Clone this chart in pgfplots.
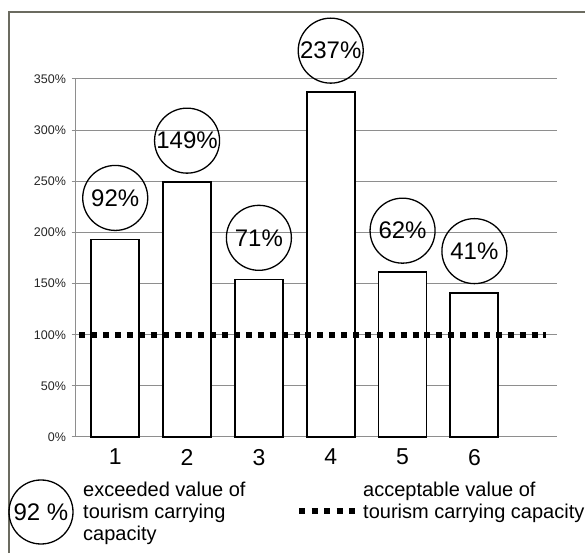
\documentclass[border=0pt]{standalone}
\usepackage{fontspec}
\setmainfont{Liberation Sans}
\usepackage{pgfplots}
\pgfplotsset{compat=1.18}
\definecolor{gridgray}{HTML}{8E8E8E}
\definecolor{framegray}{HTML}{6B6B60}

\begin{document}
\begin{tikzpicture}
\useasboundingbox (0,0) rectangle (585pt,553pt);
% outer frame (left and top edges visible)
\draw[framegray, line width=1.5pt] (9pt,0pt) -- (9pt,541pt) -- (585pt,541pt);

\begin{axis}[
    at={(75pt,116pt)}, anchor=south west,
    width=482pt, height=358pt, scale only axis,
    clip=false,
    xmin=0.44, xmax=7.15,
    ymin=0, ymax=350,
    axis x line*=bottom, axis y line*=left,
    x axis line style={draw=none},
    y axis line style={gridgray, line width=1pt},
    xtick={1,2,3,4,5,6},
    xticklabels={1,2,3,4,5,6},
    xtick style={draw=none},
    xticklabel style={font=\fontsize{23}{23}\selectfont, yshift=-5pt},
    ytick={0,50,100,150,200,250,300,350},
    yticklabels={0\%,50\%,100\%,150\%,200\%,250\%,300\%,350\%},
    ytick style={gridgray, line width=1pt},
    tick align=center, major tick length=7pt,
    yticklabel style={font=\fontsize{12.5}{12.5}\selectfont, text=black!85, xshift=-2pt},
    ymajorgrids=true,
    grid style={gridgray, line width=1pt},
    /pgf/number format/assume math mode=true,
]

\addplot[ybar, bar width=48pt, draw=black, fill=white, line width=1.8pt,
    point meta=explicit symbolic,
    nodes near coords,
    every node near coord/.append style={circle, draw=black, line width=1.3pt,
        minimum size=65pt, inner sep=0pt, anchor=south, yshift=8.5pt,
        font=\fontsize{24}{24}\selectfont, text=black}]
coordinates {
(1,193) [92\%]
(2,249) [149\%]
(3,154) [71\%]
(4,337) [237\%]
(5,161) [62\%]
(6,141) [41\%]
};

\addplot[black, line width=6pt, dash pattern=on 6pt off 5.9pt]
coordinates {(0.5,100) (7.0,100)};

\end{axis}

% legend
\node[circle, draw=black, line width=1.3pt, minimum size=64pt, inner sep=0pt,
      font=\fontsize{24}{24}\selectfont] at (41pt,41pt) {92 \%};
\node[anchor=west, align=left, inner sep=0pt,
      font=\fontsize{20}{22}\selectfont] at (83pt,40pt)
      {exceeded value of\\tourism carrying\\capacity};
\draw[black, line width=6pt, dash pattern=on 6pt off 6.5pt] (299pt,42pt) -- (360pt,42pt);
\node[anchor=west, align=left, inner sep=0pt,
      font=\fontsize{20}{22}\selectfont] at (363pt,51pt)
      {acceptable value of\\tourism carrying capacity};
\end{tikzpicture}
\end{document}
